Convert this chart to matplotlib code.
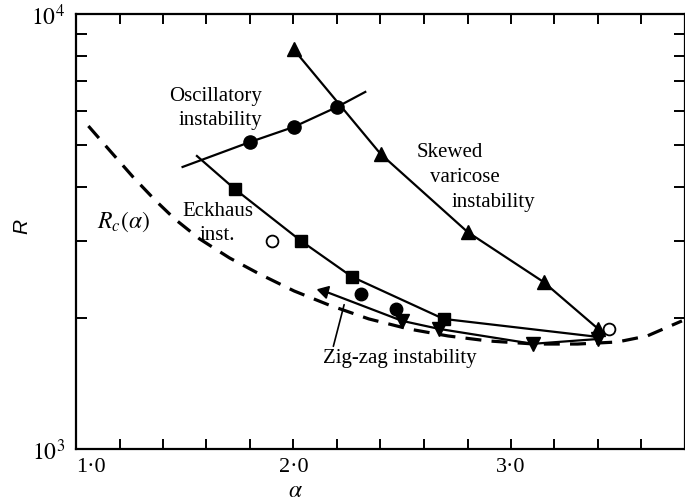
import numpy as np
import matplotlib
matplotlib.use("Agg")
import matplotlib.pyplot as plt
from matplotlib.ticker import FixedLocator, FixedFormatter, NullFormatter

plt.rcParams['font.family'] = ['Liberation Serif', 'DejaVu Serif']
plt.rcParams['mathtext.fontset'] = 'stix'

# critical Rayleigh number curve (dashed)
rc_alpha = [1.057, 1.157, 1.262, 1.363, 1.454, 1.569, 1.706, 1.843, 2.003, 2.163,
            2.346, 2.529, 2.711, 2.894, 3.109, 3.306, 3.489, 3.626, 3.786]
rc_R = [5527, 4843, 4221, 3736, 3379, 3039, 2749, 2526, 2308, 2143,
        1991, 1888, 1819, 1772, 1743, 1743, 1762, 1819, 1970]

# skewed varicose instability
sv_alpha = [2.0, 2.4, 2.8, 3.15, 3.4]
sv_R = [8300, 4770, 3155, 2420, 1890]

# oscillatory instability
osc_line_alpha = [1.49, 1.8, 2.0, 2.2, 2.33]
osc_line_R = [4450, 5078, 5497, 6112, 6620]
osc_alpha = [1.8, 2.0, 2.2]
osc_R = [5078, 5497, 6112]

# Eckhaus instability
eck_line_alpha = [1.556, 1.73, 2.035, 2.27, 2.69, 3.4]
eck_line_R = [4716, 3960, 3007, 2486, 1991, 1810]
eck_alpha = [1.73, 2.035, 2.27, 2.69]
eck_R = [3960, 3007, 2486, 1991]

# zig-zag instability
zz_alpha = [2.14, 2.5, 2.67, 3.1, 3.4]
zz_R = [2308, 1970, 1888, 1745, 1790]

# isolated points
dot_alpha = [2.31, 2.47]
dot_R = [2270, 2100]
open_alpha = [1.9, 3.45]
open_R = [3007, 1888]

fig = plt.figure(figsize=(6.85, 5.02), dpi=100)
ax = fig.add_axes([76/685, 52/502, 609/685, 435/502])
ax.set_yscale('log')
ax.set_xlim(1.0, 3.8)
ax.set_ylim(1000, 10000)

ax.plot(rc_alpha, rc_R, color='black', lw=2.3, dashes=(5, 3.2))

ax.plot(sv_alpha, sv_R, color='black', lw=1.6, marker='^', ms=10)
ax.plot(osc_line_alpha, osc_line_R, color='black', lw=1.6)
ax.plot(osc_alpha, osc_R, 'o', color='black', ms=9.5)
ax.plot(eck_line_alpha, eck_line_R, color='black', lw=1.6)
ax.plot(eck_alpha, eck_R, 's', color='black', ms=9)
ax.plot(zz_alpha, zz_R, color='black', lw=1.6)
ax.plot(zz_alpha[1:], zz_R[1:], 'v', color='black', ms=10)
ax.plot(zz_alpha[:1], zz_R[:1], marker=(3, 0, 75), color='black', ms=10)
ax.plot(dot_alpha, dot_R, 'o', color='black', ms=9)
ax.plot(open_alpha, open_R, 'o', mfc='white', mec='black', mew=1.3, ms=8.5)

# axes styling
for s in ax.spines.values():
    s.set_linewidth(1.6)
ax.xaxis.set_major_locator(FixedLocator(np.arange(1.0, 3.81, 0.2)))
ax.xaxis.set_major_formatter(FixedFormatter(
    ['1·0', '', '', '', '', '2·0', '', '', '', '', '3·0', '', '', '', '']))
ax.yaxis.set_major_locator(FixedLocator([1000, 10000]))
ax.yaxis.set_major_formatter(FixedFormatter([r'$10^3$', r'$10^4$']))
ax.yaxis.set_minor_locator(FixedLocator(np.arange(2000, 10000, 1000)))
ax.yaxis.set_minor_formatter(NullFormatter())
ax.tick_params(axis='x', which='major', direction='in', top=True, length=7, width=1.4,
               labelsize=16, pad=6)
ax.tick_params(axis='y', which='both', direction='in', right=True, length=8, width=1.4,
               labelsize=17, pad=8)
ax.tick_params(axis='y', which='major', length=0)
ax.get_xticklabels()[0].set_ha('left')

fig.text(295/685, 1 - 492/502, r'$\alpha$', fontsize=17, ha='center', va='center')
fig.text(22/685, 1 - 226/502, 'R', fontsize=15, style='italic', family='Liberation Sans',
         rotation=90, ha='center', va='center')

# curve labels
def ftext(x, y, s, **kw):
    opts = dict(fontsize=15, color='black', va='center')
    opts.update(kw)
    fig.text(x/685, 1 - y/502, s, **opts)

ftext(262, 96, 'Oscillatory', ha='right')
ftext(262, 120, 'instability', ha='right')
ftext(417, 153, 'Skewed', ha='left')
ftext(430, 178, 'varicose', ha='left')
ftext(452, 203, 'instability', ha='left')
ftext(182, 212, 'Eckhaus', ha='left')
ftext(200, 236, 'inst.', ha='left')
ftext(323, 358, 'Zig-zag instability', ha='left')
ftext(97, 222, r'$R_c(\alpha)$', ha='left', fontsize=17)

# pointer from the zig-zag label to its curve
ax.annotate('', xy=(2.236, 10**(4 - (303 - 15)/435)), xytext=(2.18, 10**(4 - (350 - 15)/435)),
            arrowprops=dict(arrowstyle='-', lw=1.2, color='black'))

fig.savefig('out.png', dpi=100)
